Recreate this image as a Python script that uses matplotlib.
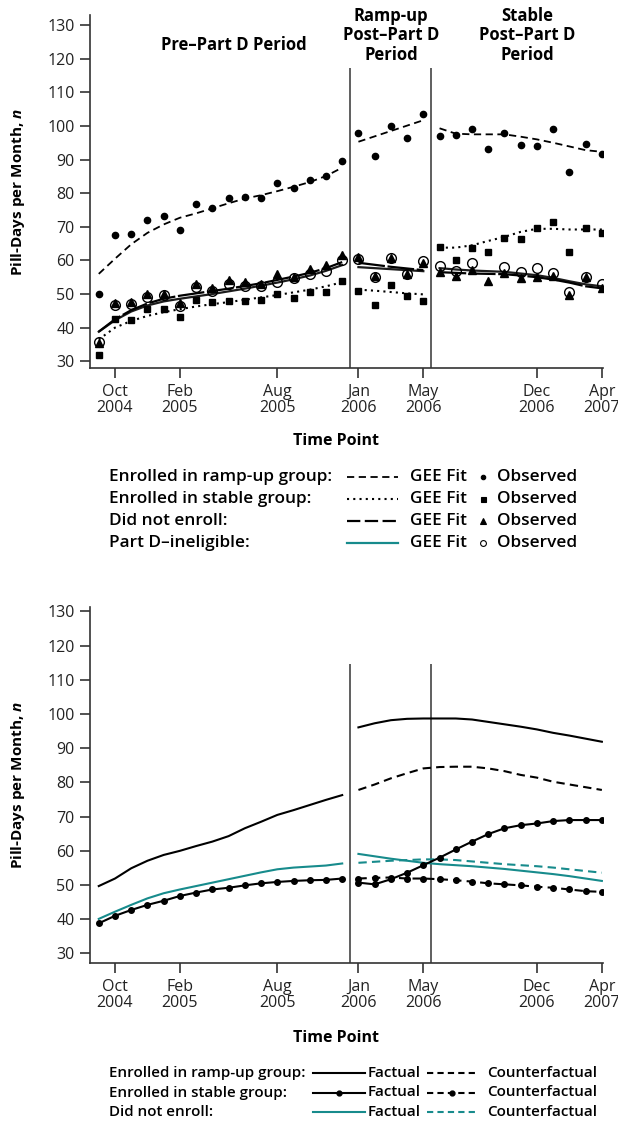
import numpy as np
import matplotlib
matplotlib.use('Agg')
import matplotlib.pyplot as plt

#STYLE SETTINGS=========================================================
plt.rcParams['font.family'] = ['Open Sans', 'DejaVu Sans']
plt.rcParams['mathtext.fontset'] = 'custom'
plt.rcParams['mathtext.it'] = 'Open Sans:italic:bold'
plt.rcParams['mathtext.rm'] = 'Open Sans:bold'

teal    = '#178b8c'
axCol   = '#333333'

#INPUT DATA=============================================================
# -- month index: 0 = Sep 2004 ... 31 = Apr 2007
mPre    = np.arange(0, 16)                                              #pre-Part D
mRamp   = np.arange(16, 21)                                             #ramp-up post-Part D
mStab   = np.arange(21, 32)                                             #stable post-Part D
mPost   = np.arange(16, 32)

tickPos = [1, 5, 11, 16, 20, 27, 31]
tickLbl = ['Oct\n2004', 'Feb\n2005', 'Aug\n2005', 'Jan\n2006',
           'May\n2006', 'Dec\n2006', 'Apr\n2007']
perBrk  = [15.5, 20.5]                                                  #period boundaries

# -- top panel: GEE fits and observed values
rampObsPre  = [50.1, 67.7, 67.9, 71.9, 73.1, 69.0, 76.7, 75.5, 78.7, 78.9, 78.5, 82.9, 81.6, 84.0, 85.2, 89.7]
rampFitPre  = [56.0, 60.5, 64.8, 68.2, 70.7, 72.7, 74.0, 75.5, 77.0, 78.4, 79.4, 80.6, 81.9, 83.3, 85.1, 87.6]
stabObsPre  = [31.8, 42.7, 42.4, 45.6, 45.6, 43.1, 48.1, 47.6, 47.8, 47.8, 48.3, 49.9, 48.8, 50.6, 50.6, 54.0]
stabFitPre  = [36.5, 40.0, 42.0, 43.5, 44.6, 45.5, 46.3, 47.0, 47.6, 48.3, 49.0, 49.7, 50.5, 51.3, 52.3, 53.5]
dneObsPre   = [35.5, 47.2, 47.6, 49.9, 50.1, 47.4, 53.1, 51.8, 54.1, 53.5, 53.0, 56.1, 55.0, 57.5, 58.5, 61.5]
dneFitPre   = [38.8, 42.5, 45.2, 47.2, 48.6, 49.5, 50.2, 50.9, 51.6, 52.4, 53.2, 54.2, 55.2, 56.3, 57.7, 59.5]
inelObsPre  = [35.8, 46.6, 46.9, 49.1, 49.6, 46.3, 52.0, 50.8, 53.0, 52.5, 52.5, 53.5, 54.7, 56.1, 57.0, 60.0]
inelFitPre  = [38.8, 42.2, 44.8, 46.6, 47.8, 48.6, 49.3, 50.0, 50.8, 51.6, 52.5, 53.4, 54.4, 55.5, 56.9, 58.6]

rampObsRmp  = [98.0, 91.1, 100.0, 96.4, 103.7]
rampFitRmp  = [95.3, 96.9, 98.5, 100.1, 101.7]
stabObsRmp  = [50.8, 46.7, 52.6, 49.4, 47.9]
stabFitRmp  = [51.3, 51.0, 50.6, 50.2, 49.9]
dneObsRmp   = [61.0, 55.3, 60.8, 56.1, 59.3]
dneFitRmp   = [59.3, 58.7, 58.1, 57.6, 57.1]
inelObsRmp  = [60.5, 55.0, 60.7, 56.0, 59.8]
inelFitRmp  = [58.0, 57.7, 57.4, 57.1, 56.8]

rampObsStb  = [97.0, 97.2, 99.0, 93.1, 98.0, 94.4, 93.9, 99.0, 86.2, 94.5, 91.6]
rampFitStb  = [99.3, 97.7, 97.5, 97.5, 97.5, 96.8, 96.0, 95.0, 93.9, 92.8, 92.3]
stabObsStb  = [64.0, 60.1, 63.8, 62.5, 66.6, 66.4, 69.6, 71.4, 62.5, 69.6, 68.1]
stabFitStb  = [63.8, 63.8, 64.5, 65.8, 67.0, 68.5, 69.4, 69.4, 69.2, 69.2, 69.2]
dneObsStb   = [56.5, 55.3, 57.1, 53.8, 56.2, 54.7, 55.0, 55.3, 49.6, 55.0, 51.7]
dneFitStb   = [56.5, 56.3, 56.1, 56.0, 55.9, 55.5, 55.0, 54.3, 53.4, 52.3, 51.7]
inelObsStb  = [58.3, 56.8, 59.2, np.nan, 58.0, 56.5, 57.7, 56.2, 50.5, 55.0, 52.9]
inelFitStb  = [57.7, 57.3, 57.0, 56.8, 56.6, 56.1, 55.6, 54.8, 53.8, 52.9, 52.3]

# -- bottom panel: factual and counterfactual trajectories
rampFactPre = [49.7, 51.9, 54.9, 57.1, 58.8, 60.0, 61.4, 62.7, 64.3, 66.6, 68.5, 70.5, 71.9, 73.4, 74.9, 76.3]
stabFactPre = [38.8, 41.0, 42.7, 44.2, 45.4, 46.8, 47.8, 48.7, 49.2, 49.9, 50.5, 50.9, 51.2, 51.4, 51.5, 51.9]
dneFactPre  = [40.1, 42.2, 44.2, 46.1, 47.6, 48.7, 49.7, 50.7, 51.7, 52.7, 53.7, 54.6, 55.1, 55.4, 55.7, 56.3]

rampFactPst = [96.1, 97.3, 98.2, 98.6, 98.7, 98.7, 98.7, 98.4, 97.7, 97.0, 96.3, 95.5, 94.5, 93.7, 92.8, 91.9]
rampCfPst   = [77.8, 79.4, 81.2, 82.7, 84.1, 84.5, 84.6, 84.6, 84.1, 83.3, 82.2, 81.4, 80.2, 79.4, 78.6, 77.8]
stabFactPst = [50.7, 50.2, 51.7, 53.6, 55.8, 58.0, 60.4, 62.7, 64.9, 66.6, 67.5, 68.0, 68.7, 69.0, 69.0, 69.0]
stabCfPst   = [51.9, 52.1, 52.2, 51.9, 51.9, 51.7, 51.4, 51.0, 50.5, 50.2, 49.9, 49.5, 49.2, 48.7, 48.2, 48.0]
dneFactPst  = [59.1, 58.4, 57.7, 57.1, 56.5, 56.1, 55.8, 55.5, 55.1, 54.7, 54.2, 53.7, 53.2, 52.6, 51.9, 51.2]
dneCfPst    = [56.5, 56.8, 57.1, 57.3, 57.5, 57.5, 57.3, 56.9, 56.5, 56.1, 55.8, 55.5, 55.1, 54.6, 54.1, 53.6]

#LINE AND MARKER STYLES=================================================
dashRamp = (0, (4, 2.5))
dotStab  = (0, (1, 2))
dashDne  = (0, (12, 1.2))

fitSty = {
    'ramp': dict(color='k', lw=1.3, ls=dashRamp),
    'stab': dict(color='k', lw=1.5, ls=dotStab),
    'dne':  dict(color='k', lw=1.6, ls=dashDne),
    'inel': dict(color='#1c1c1c', lw=1.6, ls='-'),
}
obsSty = {
    'ramp': dict(marker='o', ms=4.5, mfc='k', mec='k', ls='none'),
    'stab': dict(marker='s', ms=5.0, mfc='k', mec='k', ls='none'),
    'dne':  dict(marker='^', ms=5.5, mfc='k', mec='k', ls='none'),
    'inel': dict(marker='o', ms=7.0, mfc='none', mec='k', mew=1.0, ls='none'),
}

#HELPERS================================================================
def styleAxes(ax, ylim):
    ax.set_xlim(-0.54, 31.07)
    ax.set_ylim(*ylim)
    ax.set_yticks(np.arange(30, 131, 10))
    ax.set_xticks(tickPos)
    ax.set_xticklabels(tickLbl, linespacing=1.0)
    for sp in ['top', 'right']:
        ax.spines[sp].set_visible(False)
    for sp in ['left', 'bottom']:
        ax.spines[sp].set_color(axCol)
        ax.spines[sp].set_linewidth(1.2)
    ax.tick_params(axis='both', direction='out', length=7.2, width=1.2,
                   color=axCol, labelsize=11.5, labelcolor='#222222')
    ax.tick_params(axis='x', pad=4)
    ax.tick_params(axis='y', pad=4)
    ax.patch.set_alpha(0)

W, H = 618, 1125
fig = plt.figure(figsize=(W/100, H/100), dpi=100)

def pxAxes(l, t, r, b):
    return fig.add_axes([l/W, 1 - b/H, (r - l)/W, (b - t)/H])

#TOP PANEL==============================================================
axT = pxAxes(90, 15, 603, 368)
styleAxes(axT, (28.0, 133.0))

segs = [
    (mPre,  {'ramp': rampFitPre, 'stab': stabFitPre, 'dne': dneFitPre, 'inel': inelFitPre},
            {'ramp': rampObsPre, 'stab': stabObsPre, 'dne': dneObsPre, 'inel': inelObsPre}),
    (mRamp, {'ramp': rampFitRmp, 'stab': stabFitRmp, 'dne': dneFitRmp, 'inel': inelFitRmp},
            {'ramp': rampObsRmp, 'stab': stabObsRmp, 'dne': dneObsRmp, 'inel': inelObsRmp}),
    (mStab, {'ramp': rampFitStb, 'stab': stabFitStb, 'dne': dneFitStb, 'inel': inelFitStb},
            {'ramp': rampObsStb, 'stab': stabObsStb, 'dne': dneObsStb, 'inel': inelObsStb}),
]
for mm, fits, obs in segs:
    for key in ['ramp', 'stab', 'inel', 'dne']:
        axT.plot(mm, fits[key], zorder=2, **fitSty[key])
    for key in ['inel', 'ramp', 'stab', 'dne']:
        axT.plot(mm, obs[key], zorder=3, **obsSty[key])

axT.vlines(perBrk, 28.0, 117.3, color='#444444', lw=1.2, zorder=1)

ttlFs = 12
axT.text(8.3, 124.1, 'Pre\u2013Part D Period', ha='center', va='center',
         fontsize=ttlFs, fontweight='bold')
axT.text(18.0, 127.0, 'Ramp-up\nPost\u2013Part D\nPeriod', ha='center', va='center',
         fontsize=ttlFs, fontweight='bold', linespacing=1.1)
axT.text(26.4, 127.0, 'Stable\nPost\u2013Part D\nPeriod', ha='center', va='center',
         fontsize=ttlFs, fontweight='bold', linespacing=1.1)

#BOTTOM PANEL===========================================================
axB = pxAxes(90, 607, 603, 963)
styleAxes(axB, (27.2, 131.3))

lw = 1.5
axB.plot(mPre, rampFactPre, color='k', lw=lw)
axB.plot(mPre, dneFactPre, color=teal, lw=lw)
axB.plot(mPre, stabFactPre, color='k', lw=lw, marker='o', ms=4)

axB.plot(mPost, rampFactPst, color='k', lw=lw)
axB.plot(mPost, rampCfPst, color='k', lw=lw, ls=dashRamp)
axB.plot(mPost, dneFactPst, color=teal, lw=lw)
axB.plot(mPost, dneCfPst, color=teal, lw=lw, ls=dashRamp)
axB.plot(mPost, stabFactPst, color='k', lw=lw, marker='o', ms=4)
axB.plot(mPost, stabCfPst, color='k', lw=lw, ls=dashRamp, marker='o', ms=4)

axB.vlines(perBrk, 27.2, 114.6, color='#444444', lw=1.2, zorder=1)

#AXIS LABELS============================================================
for yc in [(15 + 368) / 2, (607 + 963) / 2]:
    fig.text(18/W, 1 - yc/H, 'Pill-Days per Month, $n$', rotation=90,
             ha='center', va='center', fontsize=11, fontweight='bold')
for yc in [441, 1038]:
    fig.text(336/W, 1 - yc/H, 'Time Point', ha='center', va='center',
             fontsize=11.5, fontweight='bold')

#LEGENDS================================================================
lax = fig.add_axes([0, 0, 1, 1])
lax.set_xlim(0, W)
lax.set_ylim(H, 0)
lax.axis('off')

lgFsT = 12.4
grpTop = ['Enrolled in ramp-up group:', 'Enrolled in stable group:',
          'Did not enroll:', 'Part D\u2013ineligible:']
keyTop = ['ramp', 'stab', 'dne', 'inel']
lgMk   = {'ramp': 3.2, 'stab': 3.6, 'dne': 3.8, 'inel': 4.2}
for i, (lbl, key) in enumerate(zip(grpTop, keyTop)):
    yy = 477 + 22 * i
    lax.text(109, yy, lbl, ha='left', va='center', fontsize=lgFsT, fontweight='semibold')
    sty = dict(fitSty[key])
    if key == 'inel':
        sty['color'] = teal
    if key == 'dne':
        sty['ls'] = (0, (6, 2))
    lax.plot([347, 398], [yy, yy], **sty)
    lax.text(410, yy, 'GEE Fit', ha='left', va='center', fontsize=lgFsT, fontweight='semibold')
    mk = dict(obsSty[key])
    mk['ms'] = lgMk[key]
    mk['mew'] = 0.8
    lax.plot([483], [yy], **mk)
    lax.text(497, yy, 'Observed', ha='left', va='center', fontsize=lgFsT, fontweight='semibold')

lgFsB = 10.9
grpBot = ['Enrolled in ramp-up group:', 'Enrolled in stable group:', 'Did not enroll:']
colBot = ['k', 'k', teal]
mkBot  = [None, 'o', None]
for i, (lbl, cc, mk) in enumerate(zip(grpBot, colBot, mkBot)):
    yy = 1073 + 19.5 * i
    lax.text(109, yy, lbl, ha='left', va='center', fontsize=lgFsB, fontweight='semibold')
    lax.plot([313, 365], [yy, yy], color=cc, lw=1.5)
    lax.text(368, yy, 'Factual', ha='left', va='center', fontsize=lgFsB, fontweight='semibold')
    lax.plot([427, 478], [yy, yy], color=cc, lw=1.5, ls=(0, (3, 2)))
    lax.text(487, yy, 'Counterfactual', ha='left', va='center', fontsize=lgFsB, fontweight='semibold')
    if mk:
        lax.plot([339], [yy], color=cc, marker=mk, ms=3.5, ls='none')
        lax.plot([452], [yy], color=cc, marker=mk, ms=3.5, ls='none')

fig.savefig('out.png', dpi=100)
